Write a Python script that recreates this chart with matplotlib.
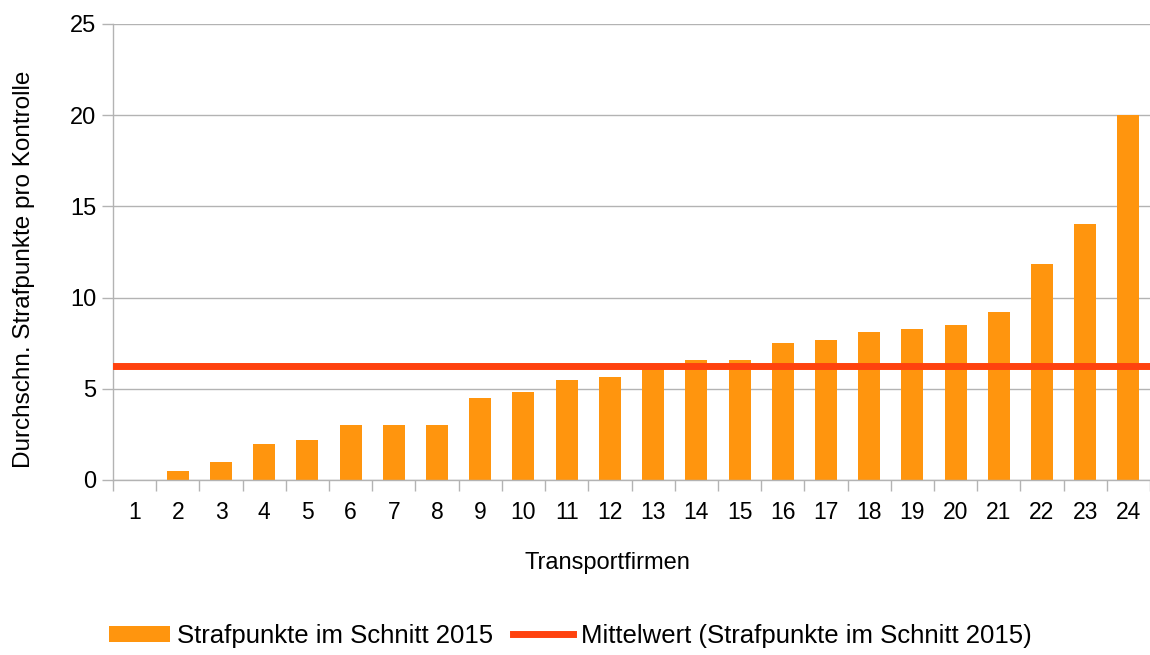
import numpy as np
import matplotlib
matplotlib.use('Agg')
from matplotlib import pyplot as plt
from matplotlib.ticker import FixedLocator

# data
firms = list(range(1, 25))
strafpunkte = [0.0, 0.5, 1.0, 2.0, 2.2, 3.0, 3.0, 3.0, 4.5, 4.85, 5.5, 5.67,
               6.2, 6.6, 6.6, 7.5, 7.65, 8.1, 8.3, 8.48, 9.2, 11.83, 14.03, 20.0]
mittelwert = 6.24
y_ticks = [0, 5, 10, 15, 20, 25]

bar_label = 'Strafpunkte im Schnitt 2015'
line_label = 'Mittelwert (Strafpunkte im Schnitt 2015)'

plt.rcParams['font.family'] = ['Liberation Sans', 'DejaVu Sans']

grey = '#b3b3b3'
orange = '#ff950e'
red = '#ff420e'

fig = plt.figure(figsize=(11.5, 6.55), dpi=100)
ax = fig.add_axes([113 / 1150, 175 / 655, 1037 / 1150, 456 / 655])

bars = ax.bar(firms, strafpunkte, width=0.51, color=orange, label=bar_label, zorder=2)
line = ax.axhline(mittelwert, color=red, linewidth=5, label=line_label, zorder=3)

ax.set_xlim(0.5, 24.5)
ax.set_ylim(0, 25)
ax.set_xticks(firms)
ax.set_xticklabels([str(f) for f in firms])
ax.xaxis.set_minor_locator(FixedLocator(np.arange(0.5, 25, 1)))
ax.set_yticks(y_ticks)

ax.tick_params(axis='x', which='major', length=0, pad=15, labelsize=16.5)
ax.tick_params(axis='x', which='minor', length=8, color=grey, width=1)
ax.tick_params(axis='y', length=8, color=grey, width=1, pad=4, labelsize=17)

ax.yaxis.grid(True, color=grey, linewidth=1, zorder=0)
ax.set_axisbelow(True)
for side in ['top', 'right']:
    ax.spines[side].set_visible(False)
for side in ['left', 'bottom']:
    ax.spines[side].set_color(grey)
    ax.spines[side].set_linewidth(1)

ax.set_xlabel('Transportfirmen', fontsize=17)
ax.set_ylabel('Durchschn. Strafpunkte pro Kontrolle', fontsize=17.5)
# labels in the reference sit a little off the axes centre
ax.xaxis.set_label_coords(0.477, -0.158)
ax.yaxis.set_label_coords(-0.075, 0.463)

fig.legend([bars, line], [bar_label, line_label], loc='center',
           bbox_to_anchor=(0.496, 1 - 636 / 655), ncol=2,
           frameon=False, fontsize=18.5, handlelength=2.35, handleheight=0.6,
           handletextpad=0.3, columnspacing=0.75)

fig.savefig('out.png', dpi=100)
